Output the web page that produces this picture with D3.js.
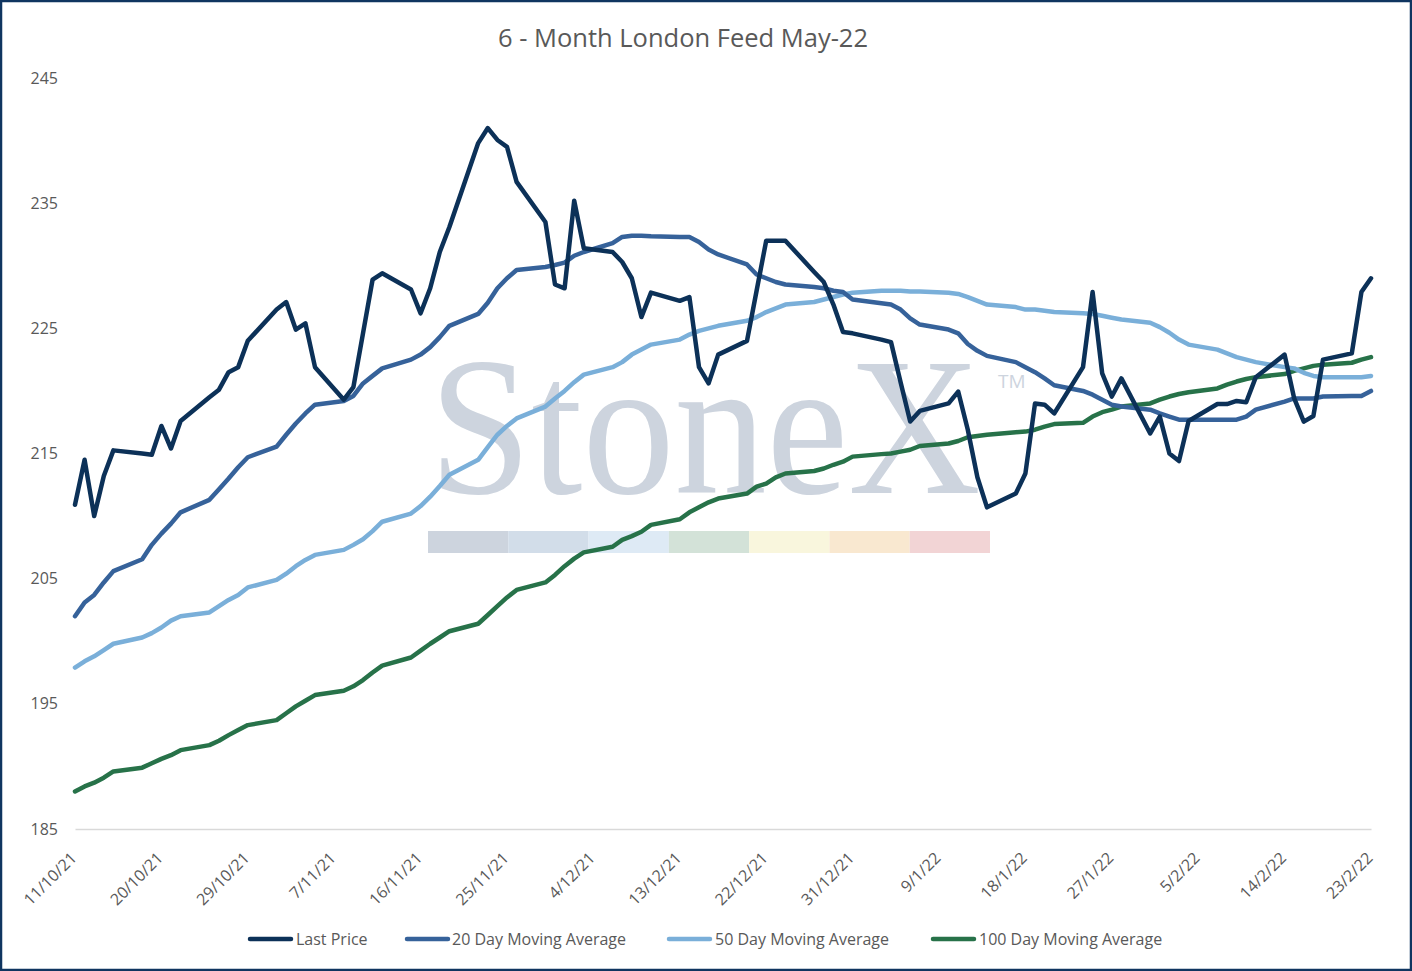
<!DOCTYPE html>
<html>
<head>
<meta charset="utf-8">
<script src="https://cdn.jsdelivr.net/npm/d3@7/dist/d3.min.js"></script>
<style>
  html, body { margin: 0; padding: 0; background: #ffffff; }
  svg { display: block; }
</style>
</head>
<body>
<svg id="chart" width="1412" height="971"></svg>
<script>
const title = "6 - Month London Feed May-22";

const dates = [
  "2021-10-11","2021-10-12","2021-10-13","2021-10-14","2021-10-15",
  "2021-10-18","2021-10-19","2021-10-20","2021-10-21","2021-10-22",
  "2021-10-25","2021-10-26","2021-10-27","2021-10-28","2021-10-29",
  "2021-11-01","2021-11-02","2021-11-03","2021-11-04","2021-11-05",
  "2021-11-08","2021-11-09","2021-11-10","2021-11-11","2021-11-12",
  "2021-11-15","2021-11-16","2021-11-17","2021-11-18","2021-11-19",
  "2021-11-22","2021-11-23","2021-11-24","2021-11-25","2021-11-26",
  "2021-11-29","2021-11-30","2021-12-01","2021-12-02","2021-12-03",
  "2021-12-06","2021-12-07","2021-12-08","2021-12-09","2021-12-10",
  "2021-12-13","2021-12-14","2021-12-15","2021-12-16","2021-12-17",
  "2021-12-20","2021-12-21","2021-12-22","2021-12-23","2021-12-24",
  "2021-12-27","2021-12-28","2021-12-29","2021-12-30","2021-12-31",
  "2022-01-03","2022-01-04","2022-01-05","2022-01-06","2022-01-07",
  "2022-01-10","2022-01-11","2022-01-12","2022-01-13","2022-01-14",
  "2022-01-17","2022-01-18","2022-01-19","2022-01-20","2022-01-21",
  "2022-01-24","2022-01-25","2022-01-26","2022-01-27","2022-01-28",
  "2022-01-31","2022-02-01","2022-02-02","2022-02-03","2022-02-04",
  "2022-02-07","2022-02-08","2022-02-09","2022-02-10","2022-02-11",
  "2022-02-14","2022-02-15","2022-02-16","2022-02-17","2022-02-18",
  "2022-02-21","2022-02-22","2022-02-23"
];

const lastPrice = [
  210.9, 214.5, 210.0, 213.2, 215.25,
  215.0, 214.9, 217.2, 215.4, 217.6,
  219.5, 220.1, 221.5, 221.9, 224.0,
  226.5, 227.1, 224.9, 225.4, 221.9,
  219.3, 220.3, 224.6, 228.9, 229.4,
  228.1, 226.2, 228.2, 231.1, 233.1,
  239.8, 241.0, 240.05, 239.5, 236.7,
  233.5, 228.5, 228.2, 235.2, 231.4,
  231.1, 230.3, 229.0, 225.9, 227.85,
  227.2, 227.5, 221.9, 220.6, 222.9,
  224.0, 228.0, 232.0, 232.0, 232.0,
  229.5, 228.7, 226.9, 224.7, 224.6,
  224.1, 223.9, 220.7, 217.55, 218.4,
  219.0, 219.95, 216.9, 213.1, 210.7,
  211.8, 213.4, 219.0, 218.9, 218.2,
  221.9, 227.9, 221.4, 219.55, 221.0,
  216.6, 217.95, 215.0, 214.4, 217.6,
  218.95, 218.95, 219.2, 219.1, 221.1,
  222.9, 219.4, 217.55, 218.0, 222.5,
  223.0, 227.9, 229.0
];

const ma20 = [
  202.0, 203.1, 203.7, 204.7, 205.6,
  206.55, 207.7, 208.6, 209.4, 210.3,
  211.3, 212.15, 213.0, 213.9, 214.7,
  215.55, 216.5, 217.4, 218.2, 218.9,
  219.2, 219.6, 220.6, 221.2, 221.8,
  222.5, 222.9, 223.5, 224.3, 225.2,
  226.15, 227.05, 228.2, 229.0, 229.66,
  229.9, 230.06, 230.25, 230.8, 231.1,
  231.8, 232.3, 232.4, 232.4, 232.35,
  232.3, 232.3, 231.9, 231.3, 230.9,
  230.1, 229.3, 229.0, 228.7, 228.5,
  228.3, 228.2, 228.0, 227.9, 227.3,
  227.0, 226.9, 226.5, 225.8, 225.3,
  224.9, 224.6, 223.75, 223.2, 222.8,
  222.3, 221.9, 221.5, 221.0, 220.45,
  220.0, 219.7, 219.3, 218.9, 218.75,
  218.5, 218.2, 217.95, 217.7, 217.7,
  217.7, 217.7, 217.7, 217.95, 218.5,
  219.15, 219.4, 219.4, 219.4, 219.55,
  219.6, 219.6, 220.0
];

const ma50 = [
  197.9, 198.4, 198.8, 199.3, 199.8,
  200.3, 200.65, 201.1, 201.65, 202.0,
  202.3, 202.8, 203.3, 203.7, 204.3,
  204.9, 205.4, 206.0, 206.5, 206.9,
  207.3, 207.7, 208.15, 208.8, 209.55,
  210.2, 210.8, 211.55, 212.4, 213.3,
  214.5, 215.5, 216.5, 217.2, 217.8,
  218.75, 219.4, 220.0, 220.7, 221.3,
  221.9, 222.3, 222.9, 223.3, 223.7,
  224.1, 224.5, 224.8, 225.0, 225.2,
  225.6, 225.9, 226.3, 226.6, 226.9,
  227.1, 227.3, 227.5, 227.7, 227.85,
  228.0, 228.0, 228.0, 227.95, 227.95,
  227.85, 227.75, 227.5, 227.2, 226.9,
  226.7, 226.5, 226.5, 226.4, 226.3,
  226.2, 226.15, 226.0, 225.85, 225.7,
  225.45, 225.1, 224.65, 224.1, 223.7,
  223.3, 223.0, 222.7, 222.5, 222.3,
  221.9, 221.8, 221.45, 221.2, 221.1,
  221.1, 221.1, 221.2
];

const ma100 = [
  188.0, 188.4, 188.7, 189.1, 189.6,
  189.9, 190.25, 190.6, 190.9, 191.3,
  191.7, 192.05, 192.5, 192.9, 193.3,
  193.7, 194.25, 194.8, 195.25, 195.7,
  196.05, 196.4, 196.9, 197.5, 198.05,
  198.7, 199.25, 199.8, 200.3, 200.8,
  201.4, 202.1, 202.8, 203.5, 204.1,
  204.7, 205.3, 206.0, 206.6, 207.1,
  207.55, 208.1, 208.4, 208.75, 209.3,
  209.75, 210.3, 210.7, 211.1, 211.4,
  211.8, 212.35, 212.6, 213.1, 213.4,
  213.6, 213.8, 214.1, 214.35, 214.75,
  214.95, 215.0, 215.15, 215.3, 215.6,
  215.8, 216.0, 216.3, 216.4, 216.5,
  216.7, 216.75, 216.9, 217.15, 217.35,
  217.45, 217.95, 218.3, 218.5, 218.75,
  219.0, 219.3, 219.55, 219.75, 219.9,
  220.2, 220.5, 220.75, 220.95, 221.1,
  221.35, 221.6, 221.8, 222.0, 222.1,
  222.25, 222.5, 222.7
];

const seriesNames = ["Last Price", "20 Day Moving Average", "50 Day Moving Average", "100 Day Moving Average"];
const seriesColors = ["#0c3158", "#36629a", "#7aafd9", "#277249"];

const yTicks = [185, 195, 205, 215, 225, 235, 245];
const xTickDates = [
  "2021-10-11","2021-10-20","2021-10-29","2021-11-07","2021-11-16","2021-11-25",
  "2021-12-04","2021-12-13","2021-12-22","2021-12-31","2022-01-09","2022-01-18",
  "2022-01-27","2022-02-05","2022-02-14","2022-02-23"
];

const watermarkText = "StoneX";
const watermarkBarColors = ["#cdd4de", "#d2dde9", "#deeaf5", "#d3e2d8", "#f9f6dd", "#f9e8d0", "#f2d4d5"];

// ---------- drawing ----------
const parse = d3.timeParse("%Y-%m-%d");
const W = 1412, H = 971;
const svg = d3.select("#chart");
const textColor = "#595959";
const fontFamily = "'Open Sans', 'Noto Sans', sans-serif";

svg.append("rect").attr("x", 0).attr("y", 0).attr("width", W).attr("height", H).attr("fill", "#ffffff");

const x = d3.scaleTime()
  .domain([parse(dates[0]), parse(dates[dates.length - 1])])
  .range([75, 1371]);
const y = d3.scaleLinear().domain([185, 245]).range([829, 78]);

// watermark
const wm = svg.append("g").attr("class", "watermark");
wm.append("text")
  .attr("transform", "translate(429,493) scale(1,1.07)")
  .attr("font-family", "'Liberation Serif', 'DejaVu Serif', serif")
  .attr("font-size", 184)
  .attr("fill", "#cdd4de")
  .text(watermarkText);
wm.append("text")
  .attr("x", 998).attr("y", 388)
  .attr("font-family", fontFamily)
  .attr("font-size", 19)
  .attr("fill", "#cdd4de")
  .text("TM");
const barX = d3.scaleBand().domain(d3.range(watermarkBarColors.length)).range([428, 990]);
wm.selectAll("rect.wb").data(watermarkBarColors).join("rect")
  .attr("class", "wb")
  .attr("x", (d, i) => barX(i)).attr("y", 531)
  .attr("width", barX.bandwidth()).attr("height", 22)
  .attr("fill", d => d);

// title
svg.append("text")
  .attr("x", 683).attr("y", 47)
  .attr("text-anchor", "middle")
  .attr("font-family", fontFamily)
  .attr("font-size", 25.5)
  .attr("fill", textColor)
  .text(title);

// y axis labels (no line)
const yAxis = svg.append("g").attr("transform", "translate(58,0)")
  .call(d3.axisLeft(y).tickValues(yTicks).tickSize(0).tickPadding(0).tickFormat(d3.format("d")));
yAxis.select(".domain").remove();
yAxis.selectAll("text")
  .attr("font-family", fontFamily).attr("font-size", 16).attr("fill", textColor);

// x axis
const xAxis = svg.append("g").attr("transform", "translate(0,829)")
  .call(d3.axisBottom(x).tickValues(xTickDates.map(parse)).tickSize(0).tickFormat(d3.timeFormat("%-d/%-m/%y")));
xAxis.select(".domain").attr("stroke", "#d9d9d9").attr("stroke-width", 1.5);
xAxis.selectAll("text")
  .attr("font-family", fontFamily).attr("font-size", 16).attr("fill", textColor)
  .attr("text-anchor", "end")
  .attr("dy", 0)
  .attr("transform", "translate(0,28) rotate(-45)");

// lines
const seriesData = [lastPrice, ma20, ma50, ma100];
const line = d3.line()
  .x((d, i) => x(parse(dates[i])))
  .y(d => y(d));

const order = [3, 2, 1, 0];
svg.append("g").selectAll("path.series").data(order).join("path")
  .attr("class", "series")
  .attr("d", k => line(seriesData[k]))
  .attr("fill", "none")
  .attr("stroke", k => seriesColors[k])
  .attr("stroke-width", 4.5)
  .attr("stroke-linejoin", "round")
  .attr("stroke-linecap", "round");

// legend
const legendItems = [
  { lx: 250, tx: 296 },
  { lx: 407, tx: 452 },
  { lx: 669, tx: 715 },
  { lx: 933, tx: 979 }
];
const lg = svg.append("g").attr("class", "legend");
legendItems.forEach((it, i) => {
  lg.append("line")
    .attr("x1", it.lx).attr("x2", it.lx + 41)
    .attr("y1", 939).attr("y2", 939)
    .attr("stroke", seriesColors[i]).attr("stroke-width", 4.5)
    .attr("stroke-linecap", "round");
  lg.append("text")
    .attr("x", it.tx).attr("y", 945)
    .attr("font-family", fontFamily).attr("font-size", 16)
    .attr("fill", textColor)
    .text(seriesNames[i]);
});

// outer border
svg.append("rect")
  .attr("x", 1).attr("y", 1).attr("width", W - 2).attr("height", H - 2)
  .attr("fill", "none").attr("stroke", "#0f3560").attr("stroke-width", 2.5);
</script>
</body>
</html>
